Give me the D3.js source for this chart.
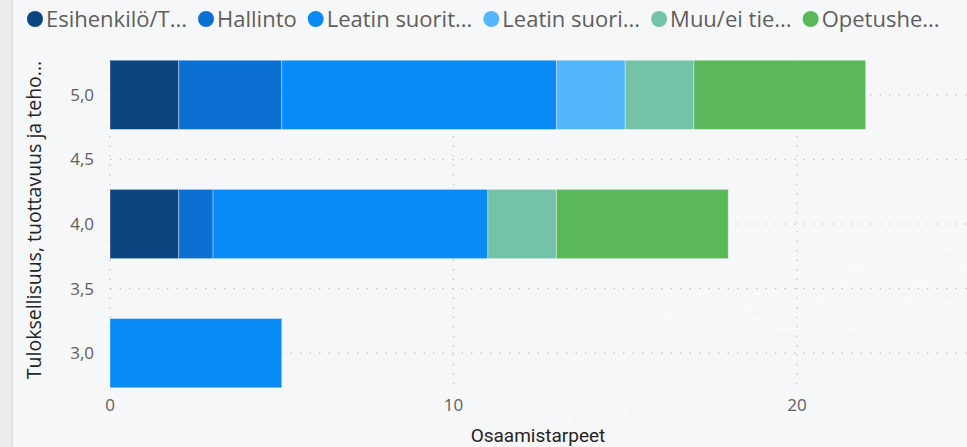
<!DOCTYPE html>
<html>
<head>
<meta charset="utf-8">
<script src="https://cdn.jsdelivr.net/npm/d3@7"></script>
<style>
  body { margin: 0; background: #f6f7f9; overflow: hidden; }
  svg { display: block; }
  text { font-family: "Segoe UI", "Open Sans", sans-serif; }
</style>
</head>
<body>
<div id="chart"></div>
<script>
// data
var categories = ["Esihenkilö/T...", "Hallinto", "Leatin suorit...", "Leatin suori...", "Muu/ei tie...", "Opetushe..."];
var colors = ["#0b4580", "#0c6fd2", "#0a8af5", "#55b5fb", "#74c2a9", "#5bb85a"];
var yLevels = [5.0, 4.0, 3.0];
var esihenkilo = [2, 2, 0];
var hallinto = [3, 1, 0];
var leatinSuorit = [8, 8, 5];
var leatinSuori = [2, 0, 0];
var muu = [2, 2, 0];
var opetus = [5, 5, 0];
var yTicks = [3.0, 3.5, 4.0, 4.5, 5.0];
var xTicks = [0, 10, 20];

var seriesValues = [esihenkilo, hallinto, leatinSuorit, leatinSuori, muu, opetus];

var width = 967, height = 447;
var margin = { top: 60, right: 0, bottom: 59, left: 110 };

var svg = d3.select("#chart").append("svg")
    .attr("width", width)
    .attr("height", height);

// panel edge on the left
svg.append("rect").attr("x", 0).attr("y", 0).attr("width", 11).attr("height", height).attr("fill", "#ececec");
svg.append("rect").attr("x", 11).attr("y", 0).attr("width", 2).attr("height", height).attr("fill", "#e2e2e2");

// faint background swirls
var swirl = svg.append("g").attr("fill", "none").attr("stroke", "#ffffff").attr("stroke-opacity", 0.6);
[0, 14, 28, 42, 56, 70].forEach(function (o) {
  swirl.append("path")
    .attr("d", "M" + (560 + o) + ",447 C" + (520 + o) + ",330 " + (700 + o) + "," + (240 + o) + " 967," + (250 + o * 1.3));
});

var x = d3.scaleLinear().domain([0, 24.95]).range([margin.left, width - margin.right]);
var y = d3.scaleLinear().domain([2.73, 5.27]).range([height - margin.bottom, margin.top]);
var barHalf = 0.268;

// rows for stacking
var rows = yLevels.map(function (lv, i) {
  var r = { level: lv };
  categories.forEach(function (c, j) { r[c] = seriesValues[j][i]; });
  return r;
});
var stack = d3.stack().keys(categories)(rows);

// gridlines
var grid = svg.append("g").attr("stroke", "#c4c4c4").attr("stroke-width", 1.2).attr("stroke-dasharray", "1.5,8");
yTicks.forEach(function (t) {
  grid.append("line").attr("x1", x(0)).attr("x2", width).attr("y1", y(t)).attr("y2", y(t));
});
xTicks.forEach(function (t) {
  grid.append("line").attr("x1", x(t)).attr("x2", x(t)).attr("y1", y(5.27)).attr("y2", y(2.73));
});

// bars
svg.append("g").selectAll("g.series")
  .data(stack)
  .enter().append("g")
  .attr("class", "series")
  .attr("fill", function (d, i) { return colors[i]; })
  .selectAll("rect")
  .data(function (d) { return d.filter(function (s) { return s[1] > s[0]; }); })
  .enter().append("rect")
  .attr("x", function (d) { return x(d[0]); })
  .attr("width", function (d) { return x(d[1]) - x(d[0]); })
  .attr("y", function (d) { return y(d.data.level + barHalf); })
  .attr("height", function (d) { return y(d.data.level - barHalf) - y(d.data.level + barHalf); })
  .attr("stroke", "#ffffff")
  .attr("stroke-opacity", 0.35)
  .attr("stroke-width", 1);

// y axis labels
var fmt = d3.format(".1f");
svg.append("g").selectAll("text")
  .data(yTicks)
  .enter().append("text")
  .attr("x", 94)
  .attr("y", function (d) { return y(d); })
  .attr("dy", "0.35em")
  .attr("text-anchor", "end")
  .attr("fill", "#605e5c")
  .style("font-size", "17px")
  .text(function (d) { return fmt(d).replace(".", ","); });

// x axis labels
svg.append("g").selectAll("text")
  .data(xTicks)
  .enter().append("text")
  .attr("x", function (d) { return x(d); })
  .attr("y", 405)
  .attr("dy", "0.35em")
  .attr("text-anchor", "middle")
  .attr("fill", "#605e5c")
  .style("font-size", "17px")
  .text(function (d) { return d; });

// axis titles
svg.append("text")
  .attr("x", 538).attr("y", 435).attr("dy", "0.35em")
  .attr("text-anchor", "middle")
  .attr("fill", "#252423")
  .style("font-family", "Roboto, sans-serif")
  .style("font-size", "19px")
  .text("Osaamistarpeet");

svg.append("text")
  .attr("transform", "translate(34," + 220 + ") rotate(-90)")
  .attr("text-anchor", "middle")
  .attr("dy", "0.35em")
  .attr("fill", "#252423")
  .style("font-size", "19.5px")
  .text("Tuloksellisuus, tuottavuus ja teho...");

// legend
var legend = svg.append("g");
var lx = 27;
categories.forEach(function (c, i) {
  var item = legend.append("g");
  item.append("circle").attr("cx", lx + 8).attr("cy", 19).attr("r", 8).attr("fill", colors[i]);
  var t = item.append("text")
    .attr("x", lx + 19).attr("y", 19).attr("dy", "0.35em")
    .attr("fill", "#605e5c")
    .style("font-size", "22px")
    .text(c);
  lx += 19 + t.node().getComputedTextLength() + 11;
});
</script>
</body>
</html>
